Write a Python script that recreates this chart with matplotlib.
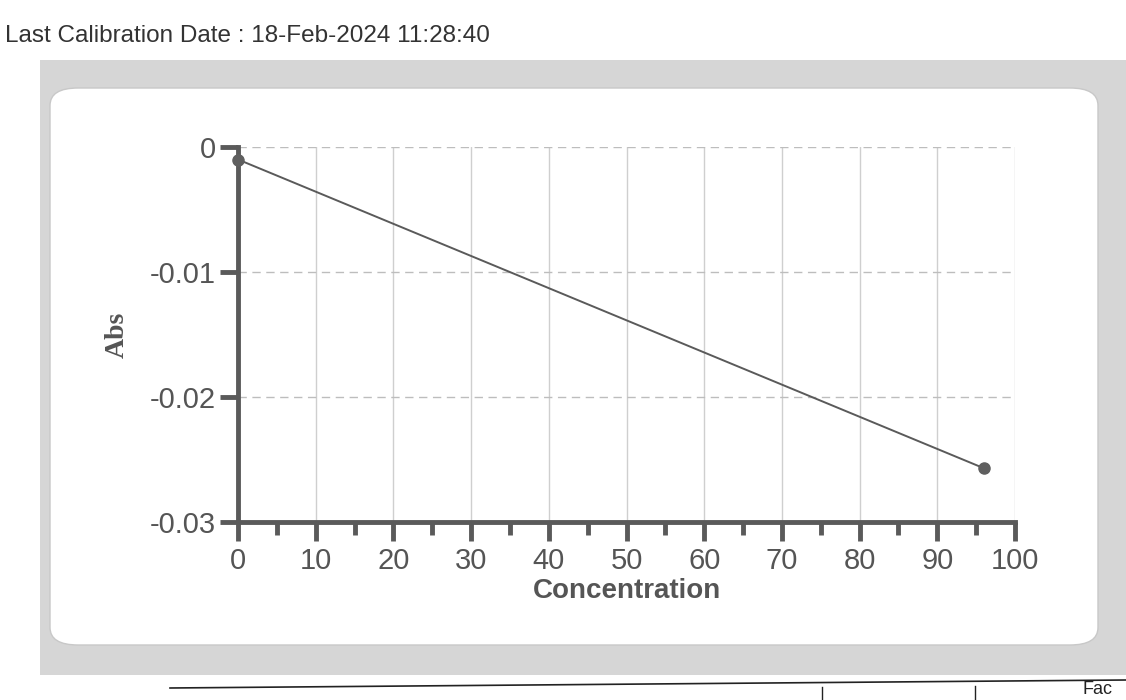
import matplotlib
matplotlib.use("Agg")
import matplotlib.pyplot as plt
from matplotlib.patches import FancyBboxPatch, Rectangle
from matplotlib.lines import Line2D

# ---- data ----
concentration = [0, 96]
absorbance = [-0.001, -0.0257]
x_major = [0, 10, 20, 30, 40, 50, 60, 70, 80, 90, 100]
x_minor = [5, 15, 25, 35, 45, 55, 65, 75, 85, 95]
y_major = [0, -0.01, -0.02, -0.03]
y_labels = ["0", "-0.01", "-0.02", "-0.03"]
header = "Last Calibration Date : 18-Feb-2024 11:28:40"

W, H = 1126, 700
fig = plt.figure(figsize=(W / 100, H / 100), dpi=100)
fig.patch.set_facecolor("white")

def fx(px):
    return px / W

def fy(py):
    return 1 - py / H

# gray panel band
fig.patches.append(Rectangle((fx(40), fy(675)), fx(W) - fx(40) + 0.01, fy(60) - fy(675),
                             transform=fig.transFigure, facecolor="#d6d6d6",
                             edgecolor="none", zorder=0))
# white rounded inner box
fig.patches.append(FancyBboxPatch((fx(50), fy(645)), fx(1098) - fx(50), fy(88) - fy(645),
                                  boxstyle="round,pad=0,rounding_size=0.025",
                                  transform=fig.transFigure, facecolor="white",
                                  edgecolor="#c8c8c8", linewidth=1.0, zorder=1))

# header text
fig.text(fx(5), fy(36), header, fontsize=17.5, color="#333333",
         family="Liberation Sans", va="center", ha="left")

# table fragment at bottom
fig.add_artist(Line2D([fx(170), 1.0], [fy(688), fy(680)], transform=fig.transFigure,
                      color="#222222", linewidth=1.2))
fig.add_artist(Line2D([fx(822), fx(822)], [fy(687), 0], transform=fig.transFigure,
                      color="#222222", linewidth=1.0))
fig.add_artist(Line2D([fx(975), fx(975)], [fy(686), 0], transform=fig.transFigure,
                      color="#222222", linewidth=1.0))
fig.text(fx(1082), fy(698), "Fac", fontsize=13, color="#222222",
         family="Liberation Sans", va="bottom", ha="left")

ax = fig.add_axes([fx(238), fy(522), fx(1015) - fx(238), fy(147) - fy(522)])
ax.set_facecolor("none")
ax.set_zorder(3)

gray = "#5a5a5a"
ax.set_xlim(0, 100)
ax.set_ylim(-0.03, 0)

# grid
for xv in x_major[1:]:
    ax.axvline(xv, color="#cfcfcf", linewidth=1.0, zorder=1)
for yv in y_major[:-1]:
    ax.axhline(yv, color="#bdbdbd", linewidth=1.0, linestyle=(0, (6, 4)), zorder=1)

ax.plot(concentration, absorbance, color=gray, linewidth=1.4, zorder=4, clip_on=False)
ax.plot(concentration, absorbance, linestyle="none", marker="o", markersize=8,
        color="#5f5f5f", zorder=5, clip_on=False)

for s in ["top", "right"]:
    ax.spines[s].set_visible(False)
for s in ["left", "bottom"]:
    ax.spines[s].set_color(gray)
    ax.spines[s].set_linewidth(3.5)

ax.set_xticks(x_major)
ax.set_xticks(x_minor, minor=True)
ax.set_xticklabels([str(v) for v in x_major])
ax.set_yticks(y_major)
ax.set_yticklabels(y_labels)
ax.tick_params(axis="x", which="major", direction="out", length=14, width=3.5,
               color=gray, labelsize=21, labelcolor="#555555", pad=4)
ax.tick_params(axis="x", which="minor", direction="out", length=9, width=3.5, color=gray)
ax.tick_params(axis="y", which="major", direction="out", length=13, width=3.5,
               color=gray, labelsize=21, labelcolor="#555555", pad=3)
for lab in ax.get_xticklabels() + ax.get_yticklabels():
    lab.set_family("Liberation Sans")

ax.set_xlabel("Concentration", fontsize=20, color="#555555", family="Liberation Sans",
              fontweight="bold", labelpad=2)
ax.set_ylabel("Abs", fontsize=20, color="#555555", family="Liberation Serif",
              fontweight="bold", labelpad=14)

fig.savefig("out.png", dpi=100)
